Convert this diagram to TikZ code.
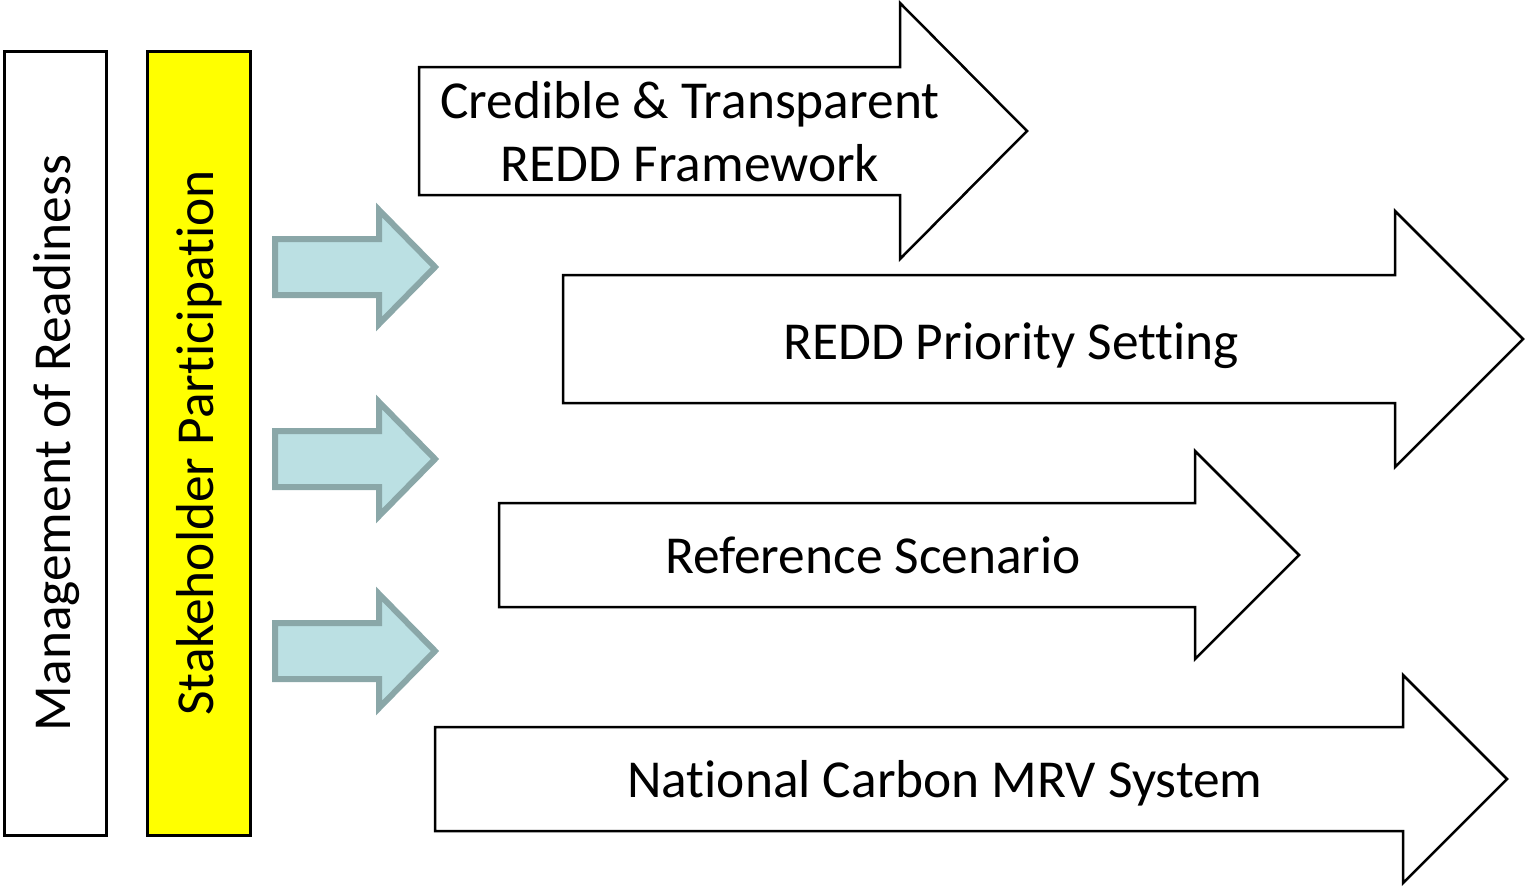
\documentclass[tikz,border=0pt]{standalone}
\usepackage{fontspec}
\setmainfont{Carlito}[Ligatures=NoCommon]
\definecolor{paleblue}{HTML}{BBE0E3}
\definecolor{greyblue}{HTML}{8AA7A8}
\definecolor{brightyellow}{HTML}{FFFF00}
\tikzset{
  bigarrow/.style={draw=black, line width=1.25pt, fill=white, line join=miter},
  smallarrow/.style={draw=greyblue, line width=3pt, fill=paleblue, line join=miter},
  sidebox/.style={draw=black, line width=1.5pt},
  label/.style={font=\fontsize{26.7}{31.5}\selectfont, align=center, inner sep=0pt}
}
\begin{document}
\begin{tikzpicture}[x=0.5pt,y=-0.5pt]
\useasboundingbox (0,0) rectangle (1527,889);
% side boxes
\draw[sidebox, fill=white] (4,51) rectangle (106,835);
\node[label, rotate=90] (readiness) at (57,443) {Management of Readiness};
\draw[sidebox, fill=brightyellow] (147,51) rectangle (250,835);
\node[label, rotate=90] (stakeholder) at (199,443) {Stakeholder Participation};
% small arrows
\foreach \y in {267,459,651}
  \draw[smallarrow] (275,\y-28) -- (379,\y-28) -- (379,\y-57) -- (435,\y) -- (379,\y+57) -- (379,\y+28) -- (275,\y+28) -- cycle;
% big arrows
\draw[bigarrow] (419,67) -- (900,67) -- (900,3) -- (1027,131) -- (900,259) -- (900,195) -- (419,195) -- cycle;
\node[label, anchor=base] (framework) at (690,181) {Credible \& Transparent\\REDD Framework};
\draw[bigarrow] (563,275) -- (1395,275) -- (1395,211) -- (1523,339) -- (1395,467) -- (1395,403) -- (563,403) -- cycle;
\node[label, anchor=base] (priority) at (1011,359) {REDD Priority Setting};
\draw[bigarrow] (499,503) -- (1195,503) -- (1195,451) -- (1299,555) -- (1195,659) -- (1195,607) -- (499,607) -- cycle;
\node[label, anchor=base] (scenario) at (873,573) {Reference Scenario};
\draw[bigarrow] (435,727) -- (1403,727) -- (1403,675) -- (1507,779) -- (1403,883) -- (1403,831) -- (435,831) -- cycle;
\node[label, anchor=base] (mrv) at (945,797) {National Carbon MRV System};
\end{tikzpicture}
\end{document}
